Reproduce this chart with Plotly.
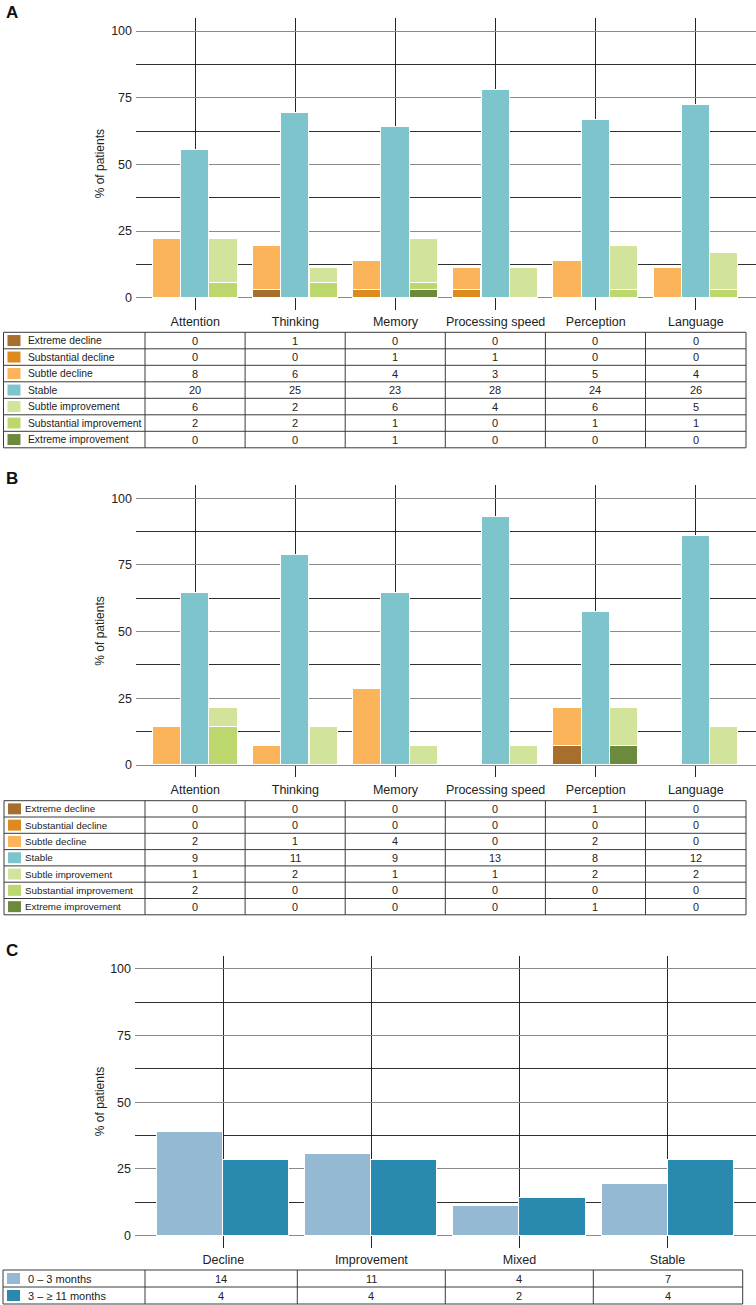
import plotly.graph_objects as go

# ---------------- data ----------------
categories = ["Attention", "Thinking", "Memory", "Processing speed", "Perception", "Language"]
levels = ["Extreme decline", "Substantial decline", "Subtle decline", "Stable",
          "Subtle improvement", "Substantial improvement", "Extreme improvement"]

a_extreme_decline = [0, 1, 0, 0, 0, 0]
a_substantial_decline = [0, 0, 1, 1, 0, 0]
a_subtle_decline = [8, 6, 4, 3, 5, 4]
a_stable = [20, 25, 23, 28, 24, 26]
a_subtle_improvement = [6, 2, 6, 4, 6, 5]
a_substantial_improvement = [2, 2, 1, 0, 1, 1]
a_extreme_improvement = [0, 0, 1, 0, 0, 0]

b_extreme_decline = [0, 0, 0, 0, 1, 0]
b_substantial_decline = [0, 0, 0, 0, 0, 0]
b_subtle_decline = [2, 1, 4, 0, 2, 0]
b_stable = [9, 11, 9, 13, 8, 12]
b_subtle_improvement = [1, 2, 1, 1, 2, 2]
b_substantial_improvement = [2, 0, 0, 0, 0, 0]
b_extreme_improvement = [0, 0, 0, 0, 1, 0]

c_categories = ["Decline", "Improvement", "Mixed", "Stable"]
c_groups = ["0 \u2013 3 months", "3 \u2013 \u2265 11 months"]
c_0_3_months = [14, 11, 4, 7]
c_3_11_months = [4, 4, 2, 4]

y_ticks = [0, 25, 50, 75, 100]
y_minor_ticks = [12.5, 37.5, 62.5, 87.5]

# ---------------- styles ----------------
level_colors = ["#a66f2e", "#dd8a1e", "#fbb459", "#7dc4cc", "#d2e39b", "#bcd86c", "#6b8a3b"]
c_colors = ["#95b9d3", "#2a89ae"]
FONT = "Liberation Sans, Arial, Helvetica, sans-serif"
W, H = 756, 1305


def px(x):
    return x / W


def py(y):
    return 1 - y / H


fig = go.Figure()
shapes = []
annotations = []

YR = [-4.6, 104.9]
PXU = 2.667  # pixels per % unit


def add_table(rows_labels, colors, values_rows, top, row_h, left, col_edges, text_x, label_size, num_size):
    n = len(rows_labels)
    bottom = top + row_h * n
    right = col_edges[-1]
    lc = "#3a3a3a"
    shapes.append(dict(type="rect", xref="paper", yref="paper", x0=px(left), x1=px(right),
                       y0=py(bottom), y1=py(top), line=dict(color=lc, width=1), fillcolor="rgba(0,0,0,0)"))
    for r in range(1, n):
        yy = top + r * row_h
        shapes.append(dict(type="line", xref="paper", yref="paper", x0=px(left), x1=px(right),
                           y0=py(yy), y1=py(yy), line=dict(color=lc, width=1)))
    for xe in col_edges[:-1]:
        shapes.append(dict(type="line", xref="paper", yref="paper", x0=px(xe), x1=px(xe),
                           y0=py(top), y1=py(bottom), line=dict(color=lc, width=1)))
    for r in range(n):
        cy = top + (r + 0.5) * row_h
        shapes.append(dict(type="rect", xref="paper", yref="paper", x0=px(left + 4), x1=px(left + 17),
                           y0=py(cy + 5.5), y1=py(cy - 5.5), line=dict(width=0), fillcolor=colors[r]))
        annotations.append(dict(xref="paper", yref="paper", x=px(text_x), y=py(cy), text=rows_labels[r],
                                showarrow=False, xanchor="left", yanchor="middle",
                                font=dict(family=FONT, size=label_size, color="#222")))
        for c, v in enumerate(values_rows[r]):
            cx = (col_edges[c] + col_edges[c + 1]) / 2
            annotations.append(dict(xref="paper", yref="paper", x=px(cx), y=py(cy), text=str(v),
                                    showarrow=False, xanchor="center", yanchor="middle",
                                    font=dict(family=FONT, size=num_size, color="#222")))


def axis_pair(idx, y0pix, x_left, x_range, tickvals, ticktext):
    top = y0pix - YR[1] * PXU
    bottom = y0pix - YR[0] * PXU
    sfx = "" if idx == 1 else str(idx)
    xa = dict(domain=[px(x_left), 1.0], range=x_range, anchor="y" + sfx,
              tickmode="array", tickvals=tickvals, ticktext=ticktext,
              showgrid=True, gridcolor="#262626", gridwidth=1, zeroline=False, showline=False,
              ticks="", tickfont=dict(family=FONT, size=12.5, color="#222"), ticklabelstandoff=3,
              fixedrange=True)
    ya = dict(domain=[py(bottom), py(top)], range=YR, anchor="x" + sfx,
              tickmode="array", tickvals=y_ticks, ticktext=[str(t) for t in y_ticks],
              showgrid=True, gridcolor="#8a8a8a", gridwidth=1, zeroline=False, showline=False,
              ticks="", tickfont=dict(family=FONT, size=12.5, color="#222"),
              minor=dict(tickvals=y_minor_ticks, showgrid=True, gridcolor="#2e2e2e", gridwidth=1, ticks=""),
              ticklabelstandoff=3, fixedrange=True)
    fig.layout["xaxis" + sfx] = xa
    fig.layout["yaxis" + sfx] = ya
    annotations.append(dict(xref="paper", yref="paper", x=px(100), y=py(y0pix - 50 * PXU),
                            text="% of patients", textangle=-90, showarrow=False,
                            xanchor="center", yanchor="middle",
                            font=dict(family=FONT, size=12, color="#222")))


def add_domain_panel(idx, series):
    sfx = "" if idx == 1 else str(idx)
    n_total = [sum(s[i] for s in series) for i in range(len(categories))]
    offs = [-0.282, -0.282, -0.282, 0.0, 0.282, 0.282, 0.282]
    order = [0, 1, 2, 3, 6, 5, 4]  # improvement stacks extreme at bottom
    for k in order:
        vals = [100.0 * series[k][i] / n_total[i] for i in range(len(categories))]
        xs = [i + offs[k] for i in range(len(categories))]
        fig.add_trace(go.Bar(x=xs, y=vals, width=0.28, name=levels[k],
                             marker=dict(color=level_colors[k], line=dict(color="white", width=1)),
                             xaxis="x" + sfx, yaxis="y" + sfx, showlegend=False, hoverinfo="skip"))


# ---------------- Panel A ----------------
a_series = [a_extreme_decline, a_substantial_decline, a_subtle_decline, a_stable,
            a_subtle_improvement, a_substantial_improvement, a_extreme_improvement]
axis_pair(1, 297.7, 136, [-0.592, 5.601], list(range(6)), categories)
add_domain_panel(1, a_series)
col_edges_ab = [145, 245.1, 345.2, 445.3, 545.4, 645.5, 746]
add_table(levels, level_colors, a_series, 332.3, 16.5, 3.5, col_edges_ab, 25.5, 10.3, 11)

# ---------------- Panel B ----------------
b_series = [b_extreme_decline, b_substantial_decline, b_subtle_decline, b_stable,
            b_subtle_improvement, b_substantial_improvement, b_extreme_improvement]
axis_pair(2, 765, 136, [-0.592, 5.601], list(range(6)), categories)
add_domain_panel(2, b_series)
add_table(levels, level_colors, b_series, 800.7, 16.3, 4, col_edges_ab, 23, 9.8, 10.8)

# ---------------- Panel C ----------------
axis_pair(3, 1235.5, 135, [-0.596, 3.597], list(range(4)), c_categories)
tot0 = sum(c_0_3_months)
tot1 = sum(c_3_11_months)
for vals, tot, off, col, nm in [(c_0_3_months, tot0, -0.223, c_colors[0], c_groups[0]),
                                (c_3_11_months, tot1, 0.223, c_colors[1], c_groups[1])]:
    fig.add_trace(go.Bar(x=[i + off for i in range(len(c_categories))],
                         y=[100.0 * v / tot for v in vals], width=0.446, name=nm,
                         marker=dict(color=col, line=dict(color="white", width=1)),
                         xaxis="x3", yaxis="y3", showlegend=False, hoverinfo="skip"))
add_table(c_groups, c_colors, [c_0_3_months, c_3_11_months], 1270, 17, 3,
          [145, 297.3, 445.3, 593.3, 742.7], 25.5, 11, 11)

# panel letters
for letter, yy in [("A", 12.5), ("B", 478.5), ("C", 950)]:
    annotations.append(dict(xref="paper", yref="paper", x=px(4), y=py(yy), text="<b>%s</b>" % letter,
                            showarrow=False, xanchor="left", yanchor="middle",
                            font=dict(family=FONT, size=17, color="#111")))

fig.update_layout(width=W, height=H, autosize=False, margin=dict(l=0, r=0, t=0, b=0),
                  paper_bgcolor="white", plot_bgcolor="white", barmode="stack", bargap=0,
                  shapes=shapes, annotations=annotations, showlegend=False,
                  font=dict(family=FONT, color="#222"))

fig.write_html("out.html", config={"displayModeBar": False},
               post_script="document.body.style.margin='0';")
